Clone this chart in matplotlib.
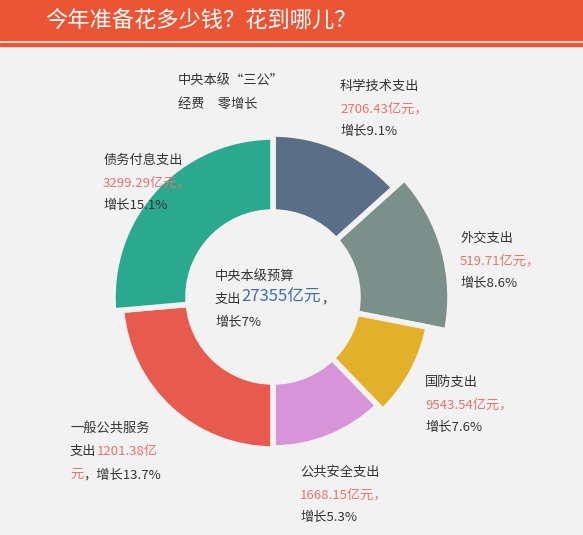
import matplotlib
matplotlib.use('Agg')
import matplotlib.pyplot as plt
from matplotlib.patches import Wedge, Rectangle

plt.rcParams['font.family'] = ['Noto Sans CJK SC', 'DejaVu Sans']

# slices, clockwise from 12 o'clock (angular size in degrees, as drawn)
names = ['科学技术支出', '外交支出', '国防支出', '公共安全支出', '一般公共服务', '债务付息支出']
spans = [48, 53, 35, 44, 85, 95]
radii = [163, 177, 158, 151, 152, 160]
colors = ['#5a6e87', '#7b8f8b', '#e3b02b', '#d894d9', '#e75a4e', '#2aa98e']
amounts = ['2706.43亿元，', '519.71亿元，', '9543.54亿元，', '1668.15亿元，', '1201.38亿', '3299.29亿元，']
growth = ['增长9.1%', '增长8.6%', '增长7.6%', '增长5.3%', '元，增长13.7%', '增长15.1%']

W, H = 583, 535
BG = '#f2f2f2'
DARK = '#333333'
PINK = '#e8736a'

fig = plt.figure(figsize=(W / 100, H / 100), dpi=100, facecolor=BG)
ax = fig.add_axes([0, 0, 1, 1])
ax.set_xlim(0, W)
ax.set_ylim(H, 0)
ax.axis('off')
ax.set_facecolor(BG)

# banner
ax.add_patch(Rectangle((0, 0), W, 40, color='#eb5535'))
ax.add_patch(Rectangle((0, 43), W, 3, color='#eb5535'))
ax.text(45, 21, '今年准备花多少钱？花到哪儿？', color='white', fontsize=16, va='center')

# donut (y axis inverted, so angles mirror: clockwise-from-top a -> a - 90)
cx, cy = 273, 297
start = 0
for span, r, c in zip(spans, radii, colors):
    t1, t2 = start - 90, start + span - 90
    ax.add_patch(Wedge((cx, cy), r, t1, t2, width=r - 85, facecolor=c,
                       edgecolor=BG, linewidth=4))
    start += span


def line(x, y, parts, size=9.5):
    prev = None
    for s, col, fs in parts:
        fs = fs or size
        if prev is None:
            prev = ax.text(x, y, s, color=col, fontsize=fs, va='baseline')
        else:
            prev = ax.annotate(s, xy=(1, 0), xycoords=prev, color=col,
                               fontsize=fs, va='bottom')


def label(x, y, name, amt, gr):
    line(x, y, [(name, DARK, None)])
    line(x, y + 23, [(amt, PINK, None)])
    line(x, y + 45, [(gr, DARK, None)])


ax.text(178, 85, '中央本级“三公”', color=DARK, fontsize=9.5, va='baseline')
ax.text(178, 108, '经费　零增长', color=DARK, fontsize=9.5, va='baseline')

label(340, 90, names[0], amounts[0], growth[0])
label(460, 242, names[1], amounts[1], growth[1])
label(425, 386, names[2], amounts[2], growth[2])
label(300, 476, names[3], amounts[3], growth[3])
line(70, 432, [(names[4], DARK, None)])
line(70, 455, [('支出', DARK, None), (amounts[4], PINK, None)])
line(70, 478, [('元', PINK, None), (growth[4][1:], DARK, None)])
label(103, 164, names[5], amounts[5], growth[5])

# centre
line(215, 280, [('中央本级预算', DARK, None)])
line(215, 303, [('支出', DARK, None), ('27355亿元', '#3f6db0', 12), ('，', DARK, None)])
line(215, 326, [('增长7%', DARK, None)])

fig.savefig('out.png', dpi=100, facecolor=BG)
